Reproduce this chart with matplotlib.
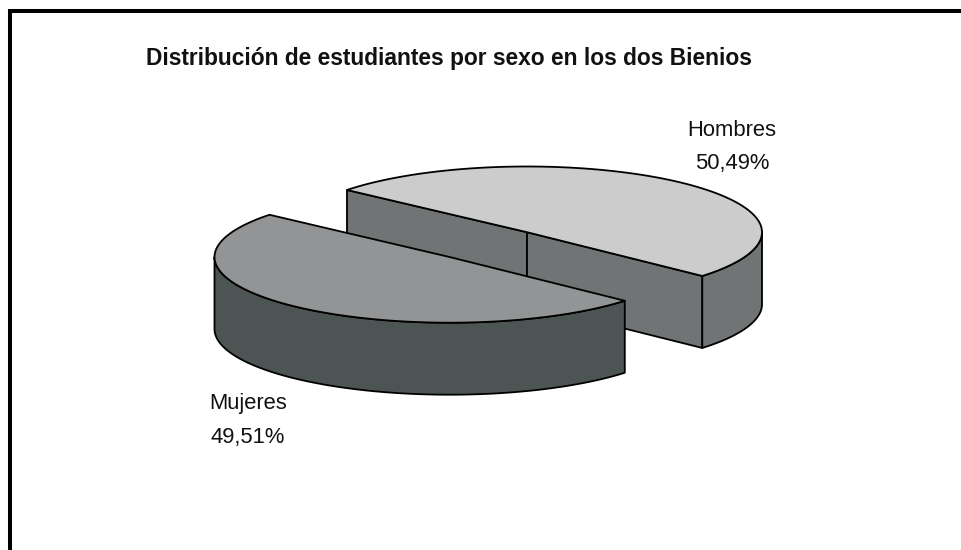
import numpy as np
import matplotlib
matplotlib.use("Agg")
import matplotlib.pyplot as plt
from matplotlib.patches import Polygon

title = "Distribución de estudiantes por sexo en los dos Bienios"
labels = ["Hombres", "Mujeres"]
values = [50.49, 49.51]
pct_labels = ["50,49%", "49,51%"]

start = 140.0   # angle of the first slice, degrees
a = 235         # ellipse radii in px
b = 65.7
h = 72          # pie thickness
centers = [(527, 232.2), (449.5, 257)]  # second slice is exploded

top_col = ["#cccccc", "#939496"]
wall_col = ["#707475", "#4d5554"]
lw = 1.3

plt.rcParams['font.family'] = ['Liberation Sans', 'DejaVu Sans']

fig = plt.figure(figsize=(9.61, 5.5), dpi=100)
ax = fig.add_axes([0, 0, 1, 1])
ax.set_xlim(0, 961)
ax.set_ylim(550, 0)
ax.axis('off')

# frame only on left and top, the rest is cut off in the source
ax.plot([10, 10, 961], [550, 11, 11], color='black', lw=2.9, solid_joinstyle='miter')


def arc(c, t0, t1, dz=0):
    t = np.radians(np.linspace(t0, t1, 120))
    return np.column_stack([c[0]+a*np.cos(t), c[1]-b*np.sin(t)+dz])


def poly(pts, col, z):
    ax.add_patch(Polygon(pts, closed=True, fc=col, ec='black', lw=lw, joinstyle='round', zorder=z))


# slice angles come from the values
sweep = [v/sum(values)*360 for v in values]
t_a = start
t_b = start-sweep[0]

# Hombres: cut walls, side wall, top
c = centers[0]
tip_l = arc(c, t_a, t_a)[0]
tip_r = arc(c, t_b, t_b)[0]
poly([tip_l, c, (c[0], c[1]+h), (tip_l[0], tip_l[1]+h)], wall_col[0], 2)
poly([c, tip_r, (tip_r[0], tip_r[1]+h), (c[0], c[1]+h)], wall_col[0], 2)
poly(np.vstack([arc(c, t_b, 0), arc(c, 0, t_b, h)]), wall_col[0], 2)
poly(np.vstack([[c], arc(c, t_a, t_b)]), top_col[0], 3)

# Mujeres: front wall, top
c = centers[1]
poly(np.vstack([arc(c, 180, 360+t_b), arc(c, 360+t_b, 180, h)]), wall_col[1], 4)
poly(np.vstack([[c], arc(c, t_a, 360+t_b)]), top_col[1], 5)

ax.text(449, 59, title, ha='center', va='center', fontsize=16.4, fontweight='bold', color='#111111')
ax.text(732, 131, labels[0], ha='center', va='center', fontsize=15.8, color='#111111')
ax.text(732, 164, pct_labels[0], ha='center', va='center', fontsize=15.8, color='#111111')
ax.text(248, 404, labels[1], ha='center', va='center', fontsize=15.8, color='#111111')
ax.text(248, 437, pct_labels[1], ha='center', va='center', fontsize=15.8, color='#111111')

fig.savefig("out.png", dpi=100)
